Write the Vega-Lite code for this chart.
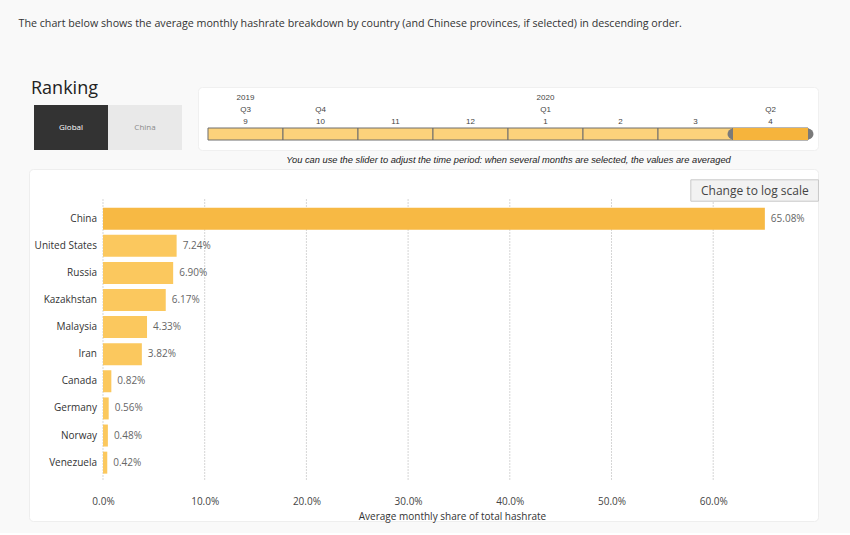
{
  "$schema": "https://vega.github.io/schema/vega-lite/v6.json",
  "background": "#f9f9f9",
  "padding": {"left": 18, "top": 18, "right": 33, "bottom": 11},
  "spacing": 3,
  "title": {"text": "The chart below shows the average monthly hashrate breakdown by country (and Chinese provinces, if selected) in descending order.", "anchor": "start", "fontSize": 10.7, "font": "Open Sans", "fontWeight": "normal", "color": "#333333", "dx": -10, "offset": 50},
  "datasets": {
    "countries": [
      {"rank": 1, "country": "China", "share": 0.6508},
      {"rank": 2, "country": "United States", "share": 0.0724},
      {"rank": 3, "country": "Russia", "share": 0.0690},
      {"rank": 4, "country": "Kazakhstan", "share": 0.0617},
      {"rank": 5, "country": "Malaysia", "share": 0.0433},
      {"rank": 6, "country": "Iran", "share": 0.0382},
      {"rank": 7, "country": "Canada", "share": 0.0082},
      {"rank": 8, "country": "Germany", "share": 0.0056},
      {"rank": 9, "country": "Norway", "share": 0.0048},
      {"rank": 10, "country": "Venezuela", "share": 0.0042}
    ],
    "ticks": [{"share": 0}, {"share": 0.1}, {"share": 0.2}, {"share": 0.3}, {"share": 0.4}, {"share": 0.5}, {"share": 0.6}],
    "months": [{"month": "9"}, {"month": "10"}, {"month": "11"}, {"month": "12"}, {"month": "1"}, {"month": "2"}, {"month": "3"}, {"month": "4"}],
    "sliderLabels": [
      {"month": "9", "level": "Year", "label": "2019"},
      {"month": "1", "level": "Year", "label": "2020"},
      {"month": "9", "level": "Quarter", "label": "Q3"},
      {"month": "10", "level": "Quarter", "label": "Q4"},
      {"month": "1", "level": "Quarter", "label": "Q1"},
      {"month": "4", "level": "Quarter", "label": "Q2"},
      {"month": "9", "level": "Month", "label": "9"},
      {"month": "10", "level": "Month", "label": "10"},
      {"month": "11", "level": "Month", "label": "11"},
      {"month": "12", "level": "Month", "label": "12"},
      {"month": "1", "level": "Month", "label": "1"},
      {"month": "2", "level": "Month", "label": "2"},
      {"month": "3", "level": "Month", "label": "3"},
      {"month": "4", "level": "Month", "label": "4"}
    ],
    "options": [{"option": "Global", "selected": true}, {"option": "China", "selected": false}],
    "logButton": [{"label": "Change to log scale"}]
  },
  "vconcat": [
    {
      "bounds": "flush",
      "spacing": 11,
      "hconcat": [
        {
          "width": 158,
          "height": 63,
          "view": {"stroke": null},
          "title": {"text": "Ranking", "anchor": "start", "fontSize": 18, "fontWeight": "normal", "font": "Open Sans", "color": "#222222", "dx": 2, "offset": -25, "baseline": "alphabetic"},
          "data": {"name": "options"},
          "encoding": {
            "x": {"field": "option", "type": "nominal", "sort": null, "scale": {"paddingInner": 0, "paddingOuter": 0.0676}, "axis": null},
            "y": {"datum": "button", "type": "nominal", "scale": {"range": [18, 63], "paddingInner": 0, "paddingOuter": 0}, "axis": null}
          },
          "layer": [
            {"mark": {"type": "rect"}, "encoding": {"color": {"condition": {"test": "datum.selected", "value": "#333333"}, "value": "#e9e9e9"}}},
            {"mark": {"type": "text", "fontSize": 8, "font": "Open Sans"}, "encoding": {"text": {"field": "option"}, "color": {"condition": {"test": "datum.selected", "value": "#ffffff"}, "value": "#8a8a8a"}}}
          ]
        },
        {
          "width": 620,
          "height": 63,
          "view": {"fill": "#ffffff", "stroke": "#f0f0f0", "cornerRadius": 4},
          "layer": [
            {
              "data": {"name": "months"},
              "mark": {"type": "rect", "stroke": "#6e6e6e", "strokeWidth": 1},
              "encoding": {
                "x": {"field": "month", "type": "ordinal", "scale": {"domain": ["9", "10", "11", "12", "1", "2", "3", "4"], "paddingInner": 0, "paddingOuter": 0.1333}, "axis": {"orient": "bottom", "labels": false, "ticks": false, "domain": false, "title": "You can use the slider to adjust the time period: when several months are selected, the values are averaged", "titleFont": "Liberation Sans", "titleFontStyle": "italic", "titleFontWeight": "normal", "titleFontSize": 9.3, "titleColor": "#222222", "titlePadding": 5}},
                "y": {"datum": "Slider", "type": "nominal", "scale": {"domain": ["Year", "Quarter", "Month", "Slider"], "range": [5, 53], "paddingInner": 0, "paddingOuter": 0}, "axis": null},
                "color": {"value": "#fcd27b"}
              }
            },
            {
              "data": {"name": "months"},
              "transform": [{"filter": "datum.month === '4'"}],
              "mark": {"type": "point", "filled": true, "shape": "circle", "size": 120, "color": "#7a7a7a", "opacity": 1},
              "encoding": {
                "x": {"field": "month", "type": "ordinal", "bandPosition": 0},
                "y": {"datum": "Slider", "type": "nominal"}
              }
            },
            {
              "data": {"name": "months"},
              "transform": [{"filter": "datum.month === '4'"}],
              "mark": {"type": "point", "filled": true, "shape": "circle", "size": 120, "color": "#7a7a7a", "opacity": 1},
              "encoding": {
                "x": {"field": "month", "type": "ordinal", "bandPosition": 1},
                "y": {"datum": "Slider", "type": "nominal"}
              }
            },
            {
              "data": {"name": "months"},
              "transform": [{"filter": "datum.month === '4'"}],
              "mark": {"type": "rect", "color": "#f6b43c"},
              "encoding": {
                "x": {"field": "month", "type": "ordinal"},
                "y": {"datum": "Slider", "type": "nominal"}
              }
            },
            {
              "data": {"name": "sliderLabels"},
              "mark": {"type": "text", "fontSize": 8, "font": "Liberation Sans", "color": "#444444"},
              "encoding": {
                "x": {"field": "month", "type": "ordinal"},
                "y": {"field": "level", "type": "nominal"},
                "text": {"field": "label"}
              }
            }
          ]
        }
      ]
    },
    {
      "width": 789,
      "height": 352,
      "view": {"fill": "#ffffff", "stroke": "#eeeeee", "cornerRadius": 4},
      "layer": [
        {
          "data": {"name": "ticks"},
          "mark": {"type": "rule", "strokeDash": [1.5, 1.5], "color": "#c8c8c8", "strokeWidth": 1},
          "encoding": {
            "x": {"field": "share", "type": "quantitative", "scale": {"domain": [-0.07276, 0.70305], "nice": false, "zero": false}, "axis": {"values": [0, 0.1, 0.2, 0.3, 0.4, 0.5, 0.6], "format": ".1%", "grid": false, "ticks": false, "domain": false, "offset": -27, "labelPadding": 2, "labelFontSize": 10, "labelFont": "Open Sans", "labelColor": "#444444", "title": "Average monthly share of total hashrate", "titleFont": "Open Sans", "titleFontWeight": "normal", "titleFontSize": 10, "titleColor": "#333333", "titlePadding": 5, "titleX": 423}},
            "y": {"datum": 0.283, "type": "quantitative", "scale": {"domain": [-0.6487, 11.968], "reverse": true, "nice": false, "zero": false}, "axis": null},
            "y2": {"datum": 10.64}
          }
        },
        {
          "data": {"name": "countries"},
          "mark": {"type": "bar", "orient": "horizontal", "height": 22},
          "encoding": {
            "x": {"field": "share", "type": "quantitative", "stack": null},
            "y": {"field": "rank", "type": "quantitative"},
            "color": {"condition": {"test": "datum.country === 'China'", "value": "#f7b944"}, "value": "#fbc85e"}
          }
        },
        {
          "data": {"name": "countries"},
          "mark": {"type": "text", "align": "left", "baseline": "middle", "dx": 6, "fontSize": 10, "font": "Open Sans", "color": "#666666"},
          "encoding": {
            "x": {"field": "share", "type": "quantitative"},
            "y": {"field": "rank", "type": "quantitative"},
            "text": {"field": "share", "type": "quantitative", "format": ".2%"}
          }
        },
        {
          "data": {"name": "countries"},
          "mark": {"type": "text", "align": "right", "baseline": "middle", "dx": -6, "fontSize": 10, "font": "Open Sans", "color": "#333333"},
          "encoding": {
            "x": {"datum": 0, "type": "quantitative"},
            "y": {"field": "rank", "type": "quantitative"},
            "text": {"field": "country"}
          }
        },
        {
          "data": {"name": "logButton"},
          "mark": {"type": "rect", "fill": "#f2f2f2", "stroke": "#c8c8c8", "strokeWidth": 1},
          "encoding": {
            "x": {"datum": 0.578, "type": "quantitative"},
            "x2": {"datum": 0.7035},
            "y": {"datum": -0.434, "type": "quantitative"},
            "y2": {"datum": 0.355}
          }
        },
        {
          "data": {"name": "logButton"},
          "mark": {"type": "text", "align": "center", "baseline": "middle", "fontSize": 12, "font": "Open Sans", "color": "#444444"},
          "encoding": {
            "x": {"datum": 0.641, "type": "quantitative"},
            "y": {"datum": -0.039, "type": "quantitative"},
            "text": {"field": "label"}
          }
        }
      ]
    }
  ],
  "config": {"view": {"stroke": null}, "font": "Open Sans"}
}
